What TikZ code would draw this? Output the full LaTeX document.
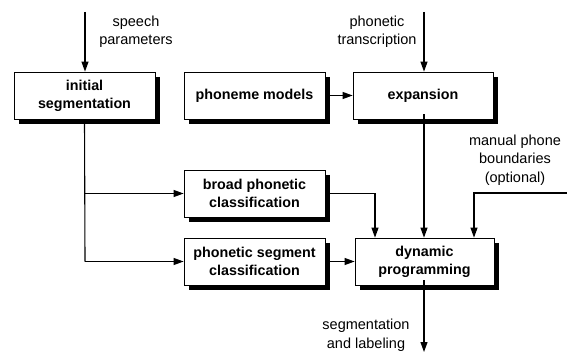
\documentclass[tikz,border=0pt]{standalone}
\usepackage{fontspec}
\setmainfont{Liberation Sans}
\usetikzlibrary{arrows.meta}
\begin{document}
\begin{tikzpicture}[x=1pt,y=-1pt,
  box/.style={draw=black,line width=0.8pt,fill=white,minimum width=141pt,minimum height=47pt,
    align=center,font=\fontsize{14.3}{18}\selectfont\bfseries,inner sep=2pt},
  lbl/.style={align=center,font=\fontsize{14.5}{18.5}\selectfont,inner sep=0pt},
  conn/.style={line width=1.1pt},
  arr/.style={conn,-{Triangle[length=10pt,width=7pt]}}]
\useasboundingbox (0,0) rectangle (567,352);
\node[box] (init) at (84.5,95.5) {initial\\segmentation};
\node[box] (pm) at (254.5,95.5) {phoneme models};
\node[box,minimum width=140pt] (exp) at (423,95.5) {expansion};
\node[box] (broad) at (254.5,193.5) {broad phonetic\\classification};
\node[box] (seg) at (254.5,261.5) {phonetic segment\\classification};
\node[box,minimum width=139pt] (dyn) at (424.5,261.5) {dynamic\\programming};
\draw[black,line width=4.6pt,line join=miter] (157.7,77) -- (157.7,121.7) -- (19,121.7);
\draw[black,line width=4.6pt,line join=miter] (327.7,77) -- (327.7,121.7) -- (189,121.7);
\draw[black,line width=4.6pt,line join=miter] (495.7,77) -- (495.7,121.7) -- (358,121.7);
\draw[black,line width=4.6pt,line join=miter] (327.7,175) -- (327.7,219.7) -- (189,219.7);
\draw[black,line width=4.6pt,line join=miter] (327.7,243) -- (327.7,287.7) -- (189,287.7);
\draw[black,line width=4.6pt,line join=miter] (496.7,243) -- (496.7,287.7) -- (360,287.7);
\coordinate (sin) at (85,12);
\coordinate (tin) at (424,12);
\coordinate (mstart) at (567,193);
\coordinate (mbend) at (474,193);
\coordinate (bbend) at (375,193.5);
\coordinate (out) at (424,352);
\coordinate (split1) at (85,193.5);
\coordinate (split2) at (85,261.5);
\node[lbl] (lsp) at (136,32) {speech\\parameters};
\node[lbl] (lpt) at (377,32) {phonetic\\transcription};
\node[lbl] (lman) at (515,160) {manual phone\\boundaries\\(optional)};
\node[lbl] (lout) at (366,335.5) {segmentation\\and labeling};
\draw[arr] (sin) -- (sin |- init.north);
\draw[arr] (tin) -- (tin |- exp.north);
\draw[arr] ([xshift=5pt]pm.east) -- (exp.west);
\draw[conn] (init.south) -- (split2);
\draw[arr] (split1) -- (broad.west);
\draw[arr] (split2) -- (seg.west);
\draw[arr] ([xshift=5pt]broad.east) -- (bbend) -- (bbend |- dyn.north);
\draw[arr] ([xshift=5pt]seg.east) -- (dyn.west);
\draw[arr] ([yshift=5pt]tin |- exp.south) -- (tin |- dyn.north);
\draw[arr] (mstart) -- (mbend) -- (mbend |- dyn.north);
\draw[arr] ([yshift=5pt]tin |- dyn.south) -- (out);
\end{tikzpicture}
\end{document}
